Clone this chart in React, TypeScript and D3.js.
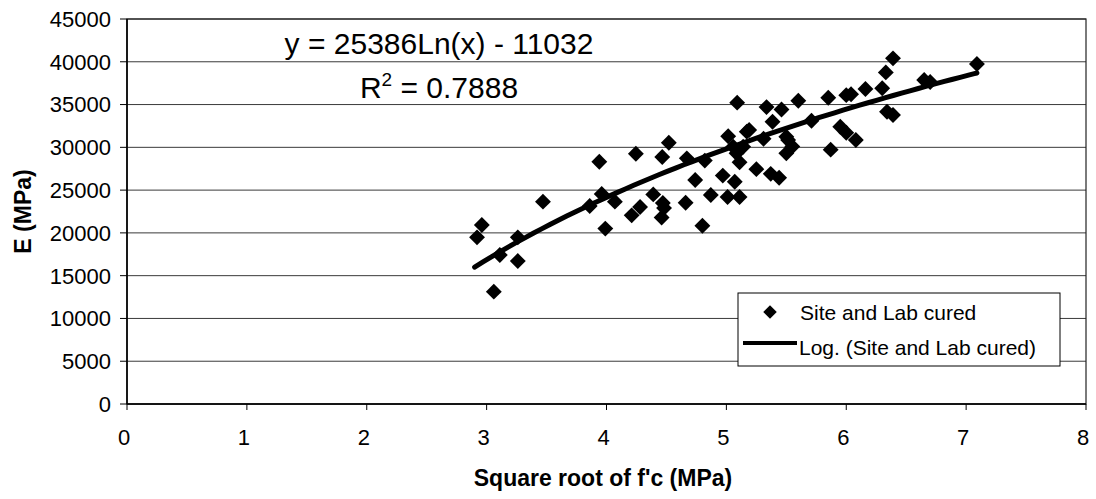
import React from "react";
import * as d3 from "d3";

// Square root of f'c (MPa)
const sqrtFc = [
  2.92, 2.96, 3.11, 3.06, 3.26, 3.26, 3.47,
  3.86, 3.94, 3.96, 3.99, 4.07, 4.21, 4.28, 4.245, 4.39, 4.465, 4.52,
  4.47, 4.46, 4.48, 4.66, 4.67, 4.74, 4.80, 4.82, 4.87, 4.97, 5.01, 5.11,
  5.015, 5.057, 5.085, 5.11, 5.07, 5.09, 5.17, 5.14, 5.19, 5.25, 5.31,
  5.335, 5.385, 5.37, 5.44, 5.46, 5.50, 5.515, 5.55, 5.50, 5.60, 5.71,
  5.85, 5.87, 5.95, 6.0, 6.0, 6.08, 6.04, 6.16, 6.30, 6.33, 6.39, 6.34,
  6.39, 6.65, 6.70, 7.09,
];
// E (MPa)
const modulusE = [
  19480, 20920, 17410, 13130, 19480, 16710, 23650,
  23140, 28320, 24540, 20500, 23650, 22050, 23030, 29250, 24500, 28870, 30540,
  23500, 21800, 22900, 23530, 28710, 26180, 20840, 28450, 24430, 26700, 24200, 24200,
  31300, 30070, 29300, 28250, 25980, 35220, 31830, 30070, 32020, 27450, 31000,
  34700, 32990, 26900, 26450, 34420, 31250, 30860, 30100, 29300, 35450, 33100,
  35800, 29730, 32400, 36100, 31700, 30860, 36200, 36820, 36900, 38760, 40400, 34160,
  33780, 37870, 37630, 39740,
];

const xTicks = [0, 1, 2, 3, 4, 5, 6, 7, 8];
const yTicks = [0, 5000, 10000, 15000, 20000, 25000, 30000, 35000, 40000, 45000];

// Logarithmic trendline shown on the chart: y = 25386 Ln(x) - 11032
const fitSlope = 25386;
const fitIntercept = -11032;
const fitFrom = 2.9;
const fitTo = 7.09;

const seriesName = "Site and Lab cured";
const trendName = "Log. (Site and Lab cured)";
const xTitle = "Square root of f'c (MPa)";
const yTitle = "E (MPa)";

const FONT = "'Liberation Sans', Arial, Helvetica, sans-serif";

export default function App() {
  const W = 1096;
  const H = 499;
  const left = 127, right = 1086, top = 19, bottom = 404;
  const x = d3.scaleLinear().domain([0, 8]).range([left, right]);
  const y = d3.scaleLinear().domain([0, 45000]).range([bottom, top]);

  const diamond = d3.symbol().type(d3.symbolSquare).size(126)() as string;

  const fitXs = d3.range(0, 61).map((i) => fitFrom + ((fitTo - fitFrom) * i) / 60);
  const fitLine = d3
    .line<number>()
    .x((d) => x(d))
    .y((d) => y(fitSlope * Math.log(d) + fitIntercept))
    .curve(d3.curveMonotoneX)(fitXs) as string;

  const legX = 738, legY = 293, legW = 322, legH = 73;

  return (
    <svg
      width={W}
      height={H}
      style={{ position: "absolute", left: 0, top: 0, background: "#fff" }}
      fontFamily={FONT}
    >
      <rect x={0} y={0} width={W} height={H} fill="#fff" />
      {/* gridlines */}
      {yTicks.map((t) => (
        <line key={"g" + t} x1={left} x2={right} y1={y(t)} y2={y(t)} stroke="#3a3a3a" strokeWidth={1} />
      ))}
      {/* plot border */}
      <rect x={left} y={top} width={right - left} height={bottom - top} fill="none" stroke="#222" strokeWidth={1.2} />
      <line x1={left} x2={left} y1={top} y2={bottom} stroke="#000" strokeWidth={1.6} />
      <line x1={left} x2={right} y1={bottom} y2={bottom} stroke="#000" strokeWidth={1.6} />
      {/* y ticks */}
      {yTicks.map((t) => (
        <g key={"y" + t}>
          <line x1={left - 7} x2={left} y1={y(t)} y2={y(t)} stroke="#000" strokeWidth={1} />
          <text x={left - 16} y={y(t)} dy="0.36em" textAnchor="end" fontSize={22} fill="#000">
            {t}
          </text>
        </g>
      ))}
      {/* x ticks */}
      {xTicks.map((t) => (
        <g key={"x" + t}>
          <line x1={x(t)} x2={x(t)} y1={bottom} y2={bottom + 6} stroke="#000" strokeWidth={1} />
          <text x={x(t) - 3} y={445} textAnchor="middle" fontSize={22} fill="#000">
            {t}
          </text>
        </g>
      ))}
      {/* axis titles */}
      <text x={603} y={486} textAnchor="middle" fontSize={23} fontWeight="bold" fill="#000">
        {xTitle}
      </text>
      <text
        transform={`translate(31, ${(top + bottom) / 2}) rotate(-90)`}
        textAnchor="middle"
        fontSize={23}
        fontWeight="bold"
        fill="#000"
      >
        {yTitle}
      </text>
      {/* data points */}
      {sqrtFc.map((v, i) => (
        <path
          key={"p" + i}
          d={diamond}
          transform={`translate(${x(v)},${y(modulusE[i])}) rotate(45)`}
          fill="#000"
        />
      ))}
      {/* trendline */}
      <path d={fitLine} fill="none" stroke="#000" strokeWidth={5} strokeLinecap="round" />
      {/* equation */}
      <text x={439} y={54} textAnchor="middle" fontSize={30} fill="#000">
        y = 25386Ln(x) - 11032
      </text>
      <text x={439} y={98} textAnchor="middle" fontSize={30} fill="#000">
        R<tspan fontSize={19} dy={-12}>2</tspan>
        <tspan dy={12}> = 0.7888</tspan>
      </text>
      {/* legend */}
      <rect x={legX} y={legY} width={legW} height={legH} fill="#fff" stroke="#000" strokeWidth={1} />
      <path d={diamond} transform={`translate(770,312) rotate(45) scale(0.85)`} fill="#000" />
      <text x={800} y={320} fontSize={21} fill="#000">
        {seriesName}
      </text>
      <line x1={743} x2={797} y1={343} y2={343} stroke="#000" strokeWidth={4} />
      <text x={799} y={355} fontSize={21} fill="#000">
        {trendName}
      </text>
    </svg>
  );
}
